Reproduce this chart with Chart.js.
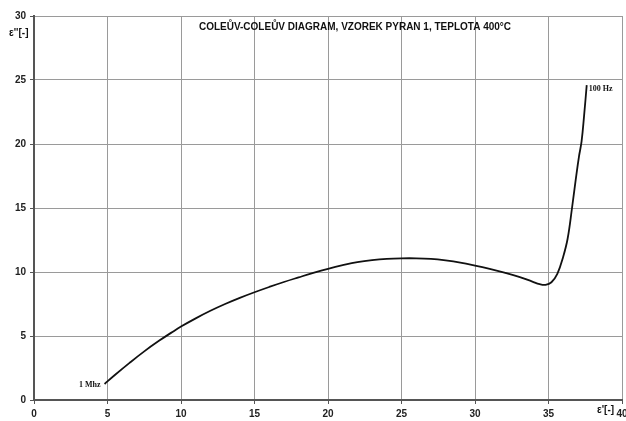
<!DOCTYPE html>
<html>
<head>
<meta charset="utf-8">
<script src="https://cdn.jsdelivr.net/npm/chart.js@4/dist/chart.umd.min.js"></script>
<style>
html,body{margin:0;padding:0;background:#fff;}
#wrap{width:626px;height:421px;position:relative;}
</style>
</head>
<body>
<div id="wrap"><canvas id="c" width="626" height="421"></canvas></div>
<script>
const titleText = "COLEŮV-COLEŮV DIAGRAM, VZOREK PYRAN 1, TEPLOTA 400°C";
const xAxisTitle = "ε'[-]";
const yAxisTitle = "ε''[-]";
const startLabel = "1 Mhz";
const endLabel = "100 Hz";
const epsReal = [4.8, 5.5, 6.5, 7.5, 8.5, 9.5, 10, 11, 12, 13, 14, 15, 16, 17, 18, 19, 20, 21, 22, 23, 24, 25, 26, 27, 28, 29, 30, 31, 32, 33, 33.9, 34.4, 34.8, 35.2, 35.6, 36.0, 36.3, 36.6, 36.85, 37.07, 37.25, 37.42, 37.6];
const epsImag = [1.25, 1.95, 2.9, 3.8, 4.62, 5.38, 5.74, 6.38, 6.97, 7.5, 7.98, 8.42, 8.83, 9.22, 9.58, 9.93, 10.25, 10.53, 10.77, 10.93, 11.03, 11.07, 11.07, 11.02, 10.9, 10.73, 10.5, 10.24, 9.95, 9.62, 9.25, 9.05, 9.0, 9.2, 9.85, 11.2, 12.6, 15.0, 17.2, 19.0, 20.2, 22.2, 24.6];

const points = epsReal.map((x, i) => ({x: x, y: epsImag[i]}));
const tickFont = {family: "'Liberation Sans', Arial, sans-serif", size: 10, weight: 'bold'};

const overlay = {
  id: 'overlay',
  afterDraw(chart) {
    const ctx = chart.ctx;
    const xs = chart.scales.x, ys = chart.scales.y;
    ctx.save();
    ctx.fillStyle = '#111';
    ctx.font = "bold 10px 'Liberation Sans', Arial, sans-serif";
    ctx.textAlign = 'center';
    ctx.textBaseline = 'middle';
    ctx.fillText(titleText, 355, 27);
    ctx.textAlign = 'left';
    ctx.fillText(yAxisTitle, 9, 33);
    ctx.fillText(xAxisTitle, 597, 410);
    ctx.font = "bold 8px 'Liberation Serif', 'Times New Roman', serif";
    const p0 = points[0], pn = points[points.length - 1];
    ctx.textAlign = 'right';
    ctx.fillText(startLabel, xs.getPixelForValue(p0.x) - 4, ys.getPixelForValue(p0.y) + 1);
    ctx.textAlign = 'left';
    ctx.fillText(endLabel, xs.getPixelForValue(pn.x) + 2, ys.getPixelForValue(pn.y) + 4);
    ctx.restore();
  }
};

new Chart(document.getElementById('c'), {
  type: 'scatter',
  data: {
    datasets: [{
      data: points,
      showLine: true,
      borderColor: '#111',
      borderWidth: 1.8,
      pointRadius: 0,
      tension: 0.4,
      fill: false
    }]
  },
  options: {
    responsive: false,
    animation: false,
    layout: {padding: {top: 16, right: 4, left: 0, bottom: 0}},
    plugins: {legend: {display: false}, tooltip: {enabled: false}, title: {display: false}},
    scales: {
      x: {
        type: 'linear', min: 0, max: 40,
        ticks: {stepSize: 5, font: tickFont, color: '#222', padding: 4, maxRotation: 0},
        grid: {color: '#9a9a9a', lineWidth: 1, tickLength: 4, tickColor: '#555'},
        border: {color: '#555', width: 2},
        afterFit(s) { s.height = 21; s.paddingLeft = 0; s.paddingRight = 0; }
      },
      y: {
        type: 'linear', min: 0, max: 30,
        ticks: {stepSize: 5, font: tickFont, color: '#222', padding: 4},
        grid: {color: '#9a9a9a', lineWidth: 1, tickLength: 4, tickColor: '#555'},
        border: {color: '#555', width: 2},
        afterFit(s) { s.width = 34; s.paddingTop = 0; s.paddingBottom = 0; }
      }
    }
  },
  plugins: [overlay]
});
</script>
</body>
</html>
